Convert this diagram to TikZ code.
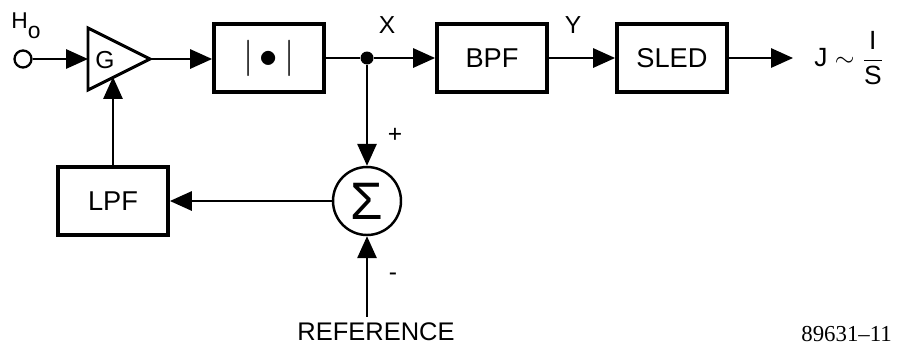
\documentclass[tikz,border=0pt]{standalone}
\usepackage{fontspec}
\setmainfont{Liberation Sans}
\newfontfamily\numfont{Liberation Serif}
\usepackage{amsmath}
\usetikzlibrary{arrows.meta}

\begin{document}
\begin{tikzpicture}[x=0.02cm, y=-0.02cm,
    block/.style={draw, line width=2.2pt, minimum width=2.2cm, minimum height=1.36cm, font=\fontsize{15.5}{18}\selectfont},
    wire/.style={draw, line width=1.1pt},
    arr/.style={draw, line width=1.1pt, -{Triangle[length=12.5pt,width=11pt]}},
    lbl/.style={font=\fontsize{14}{16}\selectfont}]
    \useasboundingbox (0,0) rectangle (898,349);

    % amplifier drawn as a plain triangle
    \coordinate (gtop) at (88,28);
    \coordinate (gbase) at (88,90);
    \coordinate (gin) at (88,59);
    \coordinate (gapex) at (150,59);
    \coordinate (gbot) at (113,77);
    \draw[line width=1.7pt, line join=miter] (gtop) -- (gapex) -- (gbase) -- cycle;
    \node[lbl] (g) at (105,60) {G};

    \node[draw, circle, line width=1.3pt, minimum size=0.34cm, inner sep=0] (hin) at (23,59) {};
    \node[anchor=base west, inner sep=0, font=\fontsize{13}{15}\selectfont] (hlbl) at (11,28) {H\raisebox{-0.9ex}{o}};
    \node[block] (abs) at (269,58) {\fontsize{22}{22}\selectfont${|}\,{\bullet}\,{|}$};
    \node[circle, fill, inner sep=0, minimum size=0.26cm] (jn) at (367,58) {};
    \node[block] (bpf) at (492,58) {BPF};
    \node[block] (sled) at (672,58) {SLED};
    \node[anchor=west, inner xsep=12pt, font=\fontsize{15}{18}\selectfont] (out) at (793,58) {J $\sim$ $\dfrac{\text{I}}{\text{S}}$};
    \node[block] (lpf) at (113,201) {LPF};
    \node[draw, circle, line width=1.4pt, minimum size=1.36cm, inner sep=0] (sum) at (367,201) {\fontsize{30}{30}\selectfont Σ};
    \node[font=\fontsize{14.5}{17}\selectfont] (ref) at (376,332) {REFERENCE};

    \node[lbl] (xlbl) at (387,25) {X};
    \node[lbl] (ylbl) at (573,25) {Y};
    \node[lbl] (plus) at (395,135) {+};
    \node[lbl] (minus) at (393,277) {-};
    \node[anchor=base east, inner sep=1pt, font=\numfont\fontsize{13}{15}\selectfont] (fig) at (894,341) {89631–11};

    \draw[arr] (hin) -- (gin);
    \draw[arr] (gapex) -- (gapex -| abs.west);
    \draw[wire] (abs) -- (jn);
    \draw[arr] (jn) -- (bpf);
    \draw[arr] (bpf) -- (sled);
    \draw[arr] (sled) -- (out);
    \draw[arr] (jn) -- (sum);
    \draw[arr] (sum) -- (lpf);
    \draw[arr] (lpf.north) -- (gbot);
    \draw[arr] (ref.north -| sum) -- (sum);
  \end{tikzpicture}
\end{document}
